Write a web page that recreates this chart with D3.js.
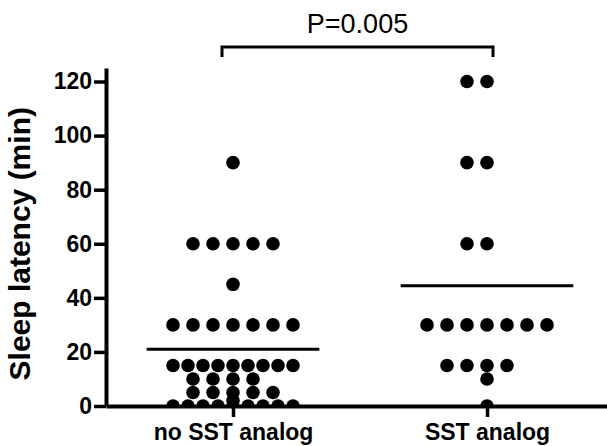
<!DOCTYPE html>
<html>
<head>
<meta charset="utf-8">
<script src="https://cdn.jsdelivr.net/npm/d3@7"></script>
<style>
  body { margin: 0; background: #fff; }
  svg text { font-family: "Liberation Sans", Arial, Helvetica, sans-serif; }
</style>
</head>
<body>
<script>
// data (minutes)
const groups = ["no SST analog", "SST analog"];
const noSST = [90, 60, 60, 60, 60, 60, 45,
  30, 30, 30, 30, 30, 30, 30,
  15, 15, 15, 15, 15, 15, 15, 15, 15,
  10, 10, 10, 10,
  5, 5, 5, 5, 5, 2,
  0, 0, 0, 0, 0, 0, 0, 0, 0];
const sstAnalog = [120, 120, 90, 90, 60, 60,
  30, 30, 30, 30, 30, 30, 30,
  15, 15, 15, 15, 10, 0];
const means = [21, 44.5];
const yTicks = [0, 20, 40, 60, 80, 100, 120];
const pText = "P=0.005";

let svgWidth = 607, svgHeight = 446;

let svg = d3.select("body").append("svg")
  .attr("width", svgWidth)
  .attr("height", svgHeight);

// scales
let x = d3.scaleLinear().domain([0.5, 2.5]).range([106, 614]);
let y = d3.scaleLinear().domain([0, 125]).range([406, 68]);

// dots sitting on zero are cut off by the x axis
svg.append("clipPath").attr("id", "plotclip")
  .append("rect")
    .attr("x", x(0.5)).attr("y", 0)
    .attr("width", svgWidth).attr("height", y(0));

// lay out each row of equal values around the group centre
function swarm(values, gi) {
  let pts = [];
  let rows = d3.group(values, v => v);
  rows.forEach((vals, v) => {
    let n = vals.length;
    let step = n > 1 ? Math.min(20, 120 / (n - 1)) : 0;
    vals.forEach((d, i) => {
      let k = i === 0 ? 0 : (i % 2 === 1 ? -Math.ceil(i / 2) : i / 2);
      pts.push({ v: d, cx: x(gi + 1) + k * step });
    });
  });
  return pts;
}

let allPts = swarm(noSST, 0).concat(swarm(sstAnalog, 1));

svg.append("g").attr("clip-path", "url(#plotclip)")
  .selectAll("circle.dot")
  .data(allPts)
  .enter().append("circle")
    .attr("class", "dot")
    .attr("cx", d => d.cx)
    .attr("cy", d => y(d.v))
    .attr("r", 6.8)
    .style("fill", "#000");

// mean lines
svg.selectAll("line.mean")
  .data(means)
  .enter().append("line")
    .attr("class", "mean")
    .attr("x1", (d, i) => x(i + 1 - 0.34))
    .attr("x2", (d, i) => x(i + 1 + 0.34))
    .attr("y1", d => y(d))
    .attr("y2", d => y(d))
    .style("stroke", "#000")
    .style("stroke-width", 3);

// axes
let vAxis = d3.axisLeft(y)
  .tickValues(yTicks)
  .tickSize(12)
  .tickSizeOuter(0);
let gy = svg.append("g")
  .attr("transform", "translate(" + x(0.5) + ",0)")
  .call(vAxis);

let hAxis = d3.axisBottom(x)
  .tickValues([1, 2])
  .tickFormat((d, i) => groups[i])
  .tickSize(11)
  .tickSizeOuter(0);
let gx = svg.append("g")
  .attr("transform", "translate(0," + y(0) + ")")
  .call(hAxis);

[gx, gy].forEach(g => {
  g.select(".domain").style("stroke", "#000").style("stroke-width", 4);
  g.selectAll(".tick line").style("stroke", "#000").style("stroke-width", 3.5);
  g.selectAll(".tick text")
    .style("font-size", "23px")
    .style("font-weight", "bold")
    .style("fill", "#000");
});
gy.selectAll(".tick text").attr("x", -14);
gx.selectAll(".tick text").attr("y", 18);

// y title
svg.append("text")
  .attr("transform", "translate(30," + y(60) + ") rotate(-90)")
  .style("text-anchor", "middle")
  .style("font-size", "30px")
  .style("font-weight", "bold")
  .text("Sleep latency (min)");

// significance bracket
let bx1 = x(1) - 11, bx2 = x(2) + 6, by = 47;
svg.append("path")
  .attr("d", "M" + bx1 + "," + (by + 10) + "V" + by + "H" + bx2 + "V" + (by + 10))
  .style("fill", "none")
  .style("stroke", "#000")
  .style("stroke-width", 3);
svg.append("text")
  .attr("x", (bx1 + bx2) / 2)
  .attr("y", 33)
  .style("text-anchor", "middle")
  .style("font-size", "27px")
  .text(pText);
</script>
</body>
</html>
